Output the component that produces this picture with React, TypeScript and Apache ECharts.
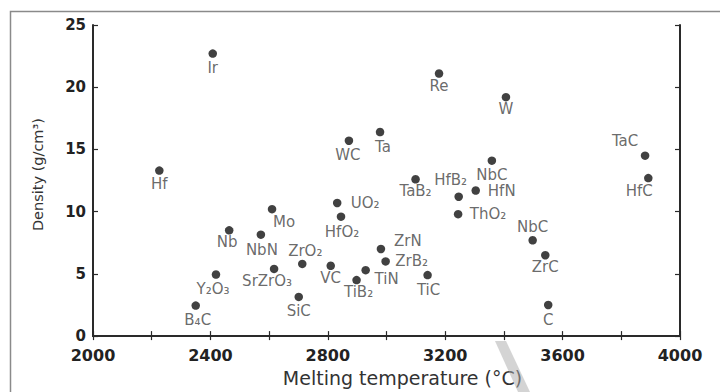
import React, { useEffect, useRef } from "react";
import * as echarts from "echarts";

// Materials, melting temperature (°C) and density (g/cm³)
const materials = [
  "Ir", "Hf", "WC", "Ta", "Re", "W", "TaC", "HfC", "NbC", "TaB₂", "HfB₂", "HfN",
  "ThO₂", "NbC", "ZrC", "C", "TiC", "ZrN", "ZrB₂", "TiN", "TiB₂", "VC", "ZrO₂",
  "SrZrO₃", "SiC", "NbN", "Nb", "Mo", "UO₂", "HfO₂", "Y₂O₃", "B₄C",
];
const meltingTemp = [
  2408, 2226, 2872, 2978, 3179, 3407, 3881, 3892, 3359, 3099, 3246, 3304,
  3244, 3498, 3541, 3551, 3140, 2981, 2997, 2929, 2898, 2810, 2713,
  2617, 2701, 2572, 2464, 2610, 2832, 2845, 2419, 2350,
];
const density = [
  22.7, 13.3, 15.7, 16.4, 21.1, 19.2, 14.5, 12.7, 14.1, 12.6, 11.2, 11.7,
  9.8, 7.7, 6.5, 2.5, 4.9, 7.0, 6.0, 5.3, 4.5, 5.65, 5.8,
  5.4, 3.15, 8.15, 8.5, 10.2, 10.7, 9.6, 4.95, 2.45,
];

// Label placement relative to each dot (layout only)
const labelOffsets: [number, number][] = [
  [0, 14], [0, 13], [-1, 14], [3, 15], [0, 12], [0, 12], [-20, -15], [-9, 13], [0, 14], [0, 12], [-8, -17], [26, 0],
  [30, 0], [0, -13], [0, 12], [0, 15], [1, 15], [27, -8], [26, 0], [21, 9], [2, 12], [0, 12], [3, -13],
  [-7, 12], [0, 14], [1, 15], [-2, 12], [12, 13], [28, 0], [1, 15], [-3, 14], [2, 14],
];

const xTicks = { min: 2000, max: 4000, step: 400 };
const yTicks = { min: 0, max: 25, step: 5 };

const FONT = "DejaVu Sans";

export default function App() {
  const ref = useRef<HTMLDivElement>(null);
  useEffect(() => {
    document.body.style.margin = "0";
    if (!ref.current) return;
    const chart = echarts.init(ref.current, null, { renderer: "svg" });
    const data = materials.map((name, i) => ({
      name,
      value: [meltingTemp[i], density[i]],
      label: {
        show: true,
        position: "inside",
        offset: labelOffsets[i],
        formatter: name,
      },
    }));
    const axisLine = { show: true, lineStyle: { color: "#2a2a2a", width: 2 } };
    chart.setOption({
      animation: false,
      backgroundColor: "#ffffff",
      grid: { left: 93, right: 40, top: 25, bottom: 51, containLabel: false },
      xAxis: [
        {
          type: "value",
          position: "bottom",
          min: xTicks.min,
          max: xTicks.max,
          interval: xTicks.step,
          axisLine,
          axisTick: { show: true, inside: true, length: 5, lineStyle: { color: "#2a2a2a", width: 1.2 } },
          minorTick: { show: true, splitNumber: 2, length: 5, lineStyle: { color: "#2a2a2a", width: 1.2 } },
          splitLine: { show: false },
          axisLabel: {
            fontFamily: FONT, fontWeight: "bold", fontSize: 16, color: "#222", margin: 11,
            formatter: (v: number) => String(v),
          },
          name: "Melting temperature (°C)",
          nameLocation: "middle",
          nameGap: 30,
          nameTextStyle: { fontFamily: FONT, fontSize: 19, color: "#333", padding: [0, 0, 0, 32] },
        },
        {
          type: "value",
          position: "top",
          min: xTicks.min,
          max: xTicks.max,
          interval: 200,
          axisLine,
          axisTick: { show: true, inside: true, length: 4, lineStyle: { color: "#2a2a2a", width: 1.2 } },
          axisLabel: { show: false },
          splitLine: { show: false },
        },
      ],
      yAxis: [
        {
          type: "value",
          position: "left",
          min: yTicks.min,
          max: yTicks.max,
          interval: yTicks.step,
          axisLine,
          axisTick: { show: true, inside: true, length: 5, lineStyle: { color: "#2a2a2a", width: 1.2 } },
          splitLine: { show: false },
          axisLabel: {
            fontFamily: FONT, fontWeight: "bold", fontSize: 15, color: "#222", margin: 7,
            formatter: (v: number) => String(v),
          },
          name: "Density (g/cm³)",
          nameLocation: "middle",
          nameRotate: 90,
          nameGap: 48,
          nameTextStyle: { fontFamily: FONT, fontSize: 14.5, color: "#333", padding: [0, 0, 0, 12] },
        },
        {
          type: "value",
          position: "right",
          min: yTicks.min,
          max: yTicks.max,
          interval: yTicks.step,
          axisLine,
          axisTick: { show: true, inside: true, length: 5, lineStyle: { color: "#2a2a2a", width: 1.2 } },
          axisLabel: { show: false },
          splitLine: { show: false },
        },
      ],
      series: [
        {
          type: "scatter",
          xAxisIndex: 0,
          yAxisIndex: 0,
          symbol: "circle",
          symbolSize: 8.5,
          itemStyle: { color: "#111" },
          label: { fontFamily: FONT, fontSize: 15, color: "#444" },
          data,
        },
      ],
      graphic: [
        {
          type: "polyline",
          shape: { points: [[10.5, 392], [10.5, 11.5], [720, 11.5]] },
          style: { stroke: "#8a8a8a", lineWidth: 1.5, fill: "none" },
          silent: true,
        },
        {
          type: "polygon",
          shape: { points: [[495, 341], [506, 341], [530, 392], [518, 392]] },
          style: { fill: "rgba(170,170,170,0.5)" },
          silent: true,
          z: 100,
        },
      ],
    });
    return () => chart.dispose();
  }, []);
  return <div ref={ref} style={{ width: 720, height: 392 }} />;
}
